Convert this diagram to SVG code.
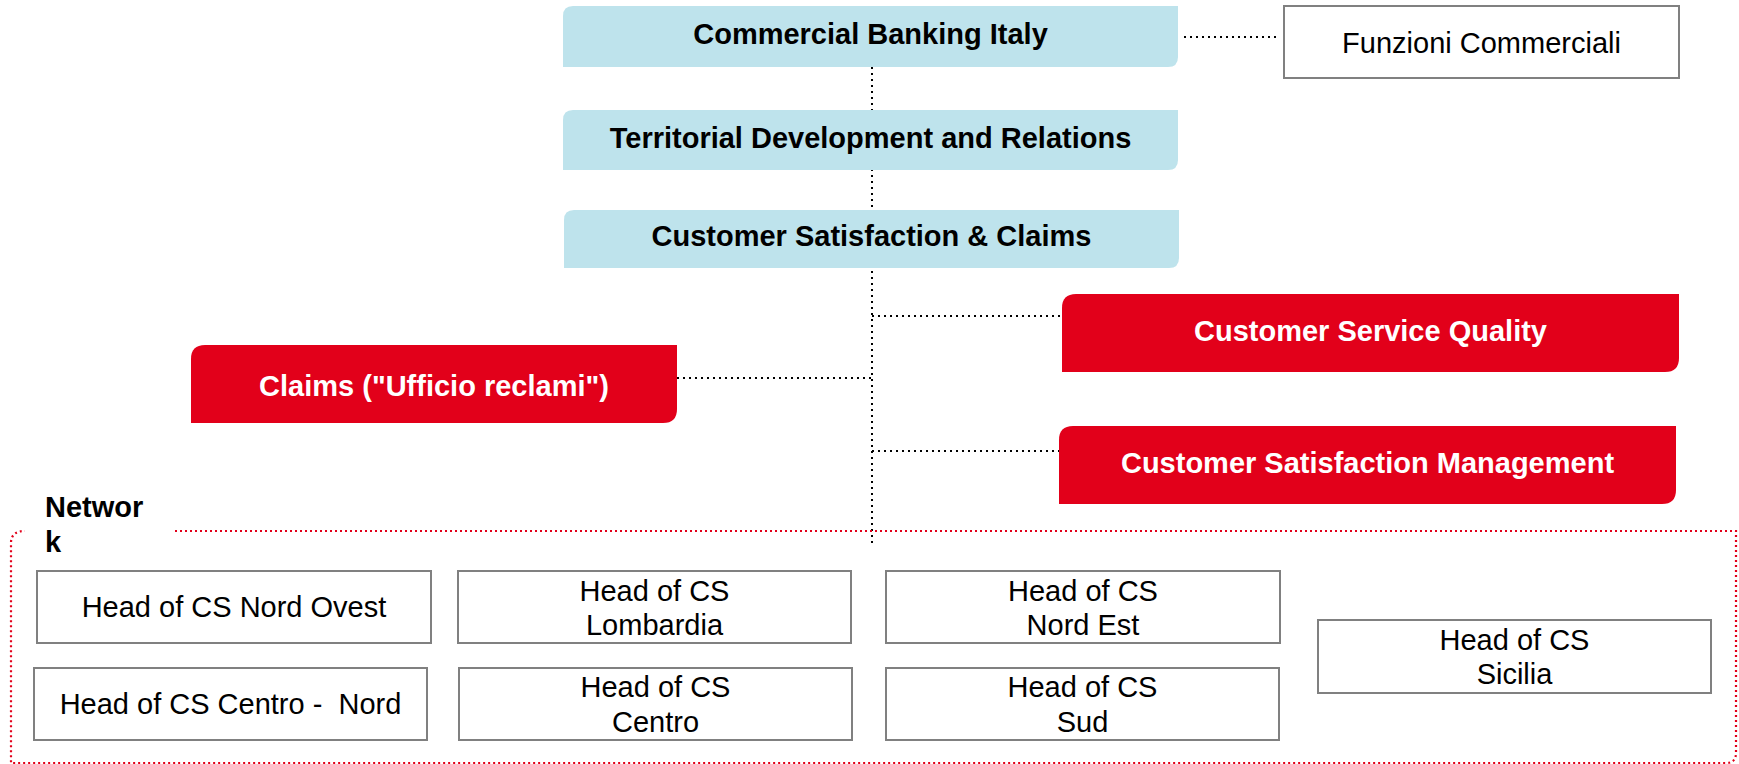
<svg xmlns="http://www.w3.org/2000/svg" width="1739" height="764" viewBox="0 0 1739 764">
  <style>
    text { font-family: "Liberation Sans", Arial, sans-serif; font-size: 29px; text-anchor: middle; }
    .b { font-weight: bold; fill: #000; }
    .w { font-weight: bold; fill: #fff; }
    .n { fill: #000; }
    .blue { fill: #bee3ec; }
    .red { fill: #e2001a; }
    .box { fill: #fff; stroke: #808080; stroke-width: 2; }
    .dot { fill: none; stroke: #000; stroke-width: 2; stroke-dasharray: 2 4; }
    .frame { fill: none; stroke: #e2001a; stroke-width: 2.2; stroke-dasharray: 2 3; }
  </style>

  <!-- connectors -->
  <g id="connectors">
    <line class="dot" x1="872" y1="67" x2="872" y2="546"/>
    <line class="dot" x1="1184" y1="37" x2="1280" y2="37"/>
    <line class="dot" x1="872" y1="316" x2="1062" y2="316"/>
    <line class="dot" x1="677" y1="378" x2="872" y2="378"/>
    <line class="dot" x1="872" y1="451" x2="1059" y2="451"/>
  </g>

  <!-- network frame -->
  <g id="network">
    <path class="frame" d="M175,531 H1736 V753 Q1736,763 1726,763 H11 V543 Q11,531 25,531"/>
    <text class="b" x="45" y="517" style="text-anchor:start">Networ</text>
    <text class="b" x="45" y="552" style="text-anchor:start">k</text>
  </g>

  <g id="commercial-banking-italy">
    <path class="blue" d="M573,6 H1178 V57 Q1178,67 1168,67 H563 V16 Q563,6 573,6 Z"/>
    <text class="b" x="870.5" y="44">Commercial Banking Italy</text>
  </g>

  <g id="funzioni-commerciali">
    <rect class="box" x="1284" y="6" width="395" height="72"/>
    <text class="n" x="1481.5" y="53">Funzioni Commerciali</text>
  </g>

  <g id="territorial-development">
    <path class="blue" d="M573,110 H1178 V160 Q1178,170 1168,170 H563 V120 Q563,110 573,110 Z"/>
    <text class="b" x="870.5" y="148">Territorial Development and Relations</text>
  </g>

  <g id="customer-satisfaction-claims">
    <path class="blue" d="M574,210 H1179 V258 Q1179,268 1169,268 H564 V220 Q564,210 574,210 Z"/>
    <text class="b" x="871.5" y="246">Customer Satisfaction &amp; Claims</text>
  </g>

  <g id="customer-service-quality">
    <path class="red" d="M1076,294 H1679 V358 Q1679,372 1665,372 H1062 V308 Q1062,294 1076,294 Z"/>
    <text class="w" x="1370.5" y="341">Customer Service Quality</text>
  </g>

  <g id="claims">
    <path class="red" d="M205,345 H677 V409 Q677,423 663,423 H191 V359 Q191,345 205,345 Z"/>
    <text class="w" x="434" y="396">Claims ("Ufficio reclami")</text>
  </g>

  <g id="customer-satisfaction-management">
    <path class="red" d="M1073,426 H1676 V490 Q1676,504 1662,504 H1059 V440 Q1059,426 1073,426 Z"/>
    <text class="w" x="1367.5" y="473">Customer Satisfaction Management</text>
  </g>

  <g id="cs-nord-ovest">
    <rect class="box" x="37" y="571" width="394" height="72"/>
    <text class="n" x="234" y="617">Head of CS Nord Ovest</text>
  </g>

  <g id="cs-lombardia">
    <rect class="box" x="458" y="571" width="393" height="72"/>
    <text class="n" x="654.5" y="601">Head of CS</text>
    <text class="n" x="654.5" y="635">Lombardia</text>
  </g>

  <g id="cs-nord-est">
    <rect class="box" x="886" y="571" width="394" height="72"/>
    <text class="n" x="1083" y="601">Head of CS</text>
    <text class="n" x="1083" y="635">Nord Est</text>
  </g>

  <g id="cs-sicilia">
    <rect class="box" x="1318" y="620" width="393" height="73"/>
    <text class="n" x="1514.5" y="650">Head of CS</text>
    <text class="n" x="1514.5" y="684">Sicilia</text>
  </g>

  <g id="cs-centro-nord">
    <rect class="box" x="34" y="668" width="393" height="72"/>
    <text class="n" x="230.5" y="714" style="white-space:pre">Head of CS Centro -  Nord</text>
  </g>

  <g id="cs-centro">
    <rect class="box" x="459" y="668" width="393" height="72"/>
    <text class="n" x="655.5" y="697">Head of CS</text>
    <text class="n" x="655.5" y="732">Centro</text>
  </g>

  <g id="cs-sud">
    <rect class="box" x="886" y="668" width="393" height="72"/>
    <text class="n" x="1082.5" y="697">Head of CS</text>
    <text class="n" x="1082.5" y="732">Sud</text>
  </g>
</svg>
